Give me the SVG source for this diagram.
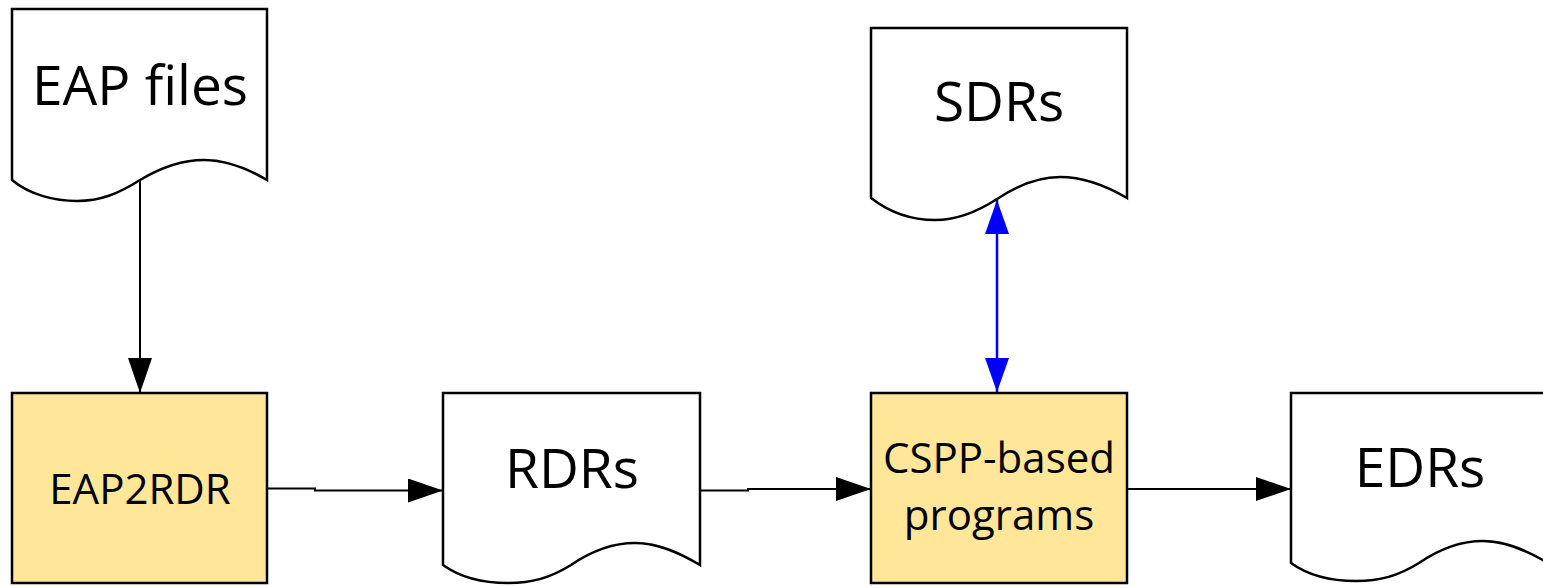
<svg xmlns="http://www.w3.org/2000/svg" width="1543" height="586" viewBox="0 0 1543 586">
  <defs>
    <style>
      .doc { fill: #ffffff; stroke: #000000; stroke-width: 2.5; stroke-linejoin: miter; }
      .proc { fill: #FFE699; stroke: #000000; stroke-width: 2.5; }
      .big { font-family: "Open Sans", "Noto Sans", sans-serif; font-size: 55px; fill: #000000; text-anchor: middle; }
      .mid { font-family: "Open Sans", "Noto Sans", sans-serif; font-size: 42px; fill: #000000; text-anchor: middle; }
      .conn { fill: none; stroke: #000000; stroke-width: 2; }
      .blue { fill: none; stroke: #0000FF; stroke-width: 2.5; }
    </style>
    <marker id="arrow" markerUnits="userSpaceOnUse" markerWidth="36" markerHeight="26" refX="35" refY="12" orient="auto">
      <path d="M0,0 L35,12 L0,24 z" fill="#000000"/>
    </marker>
    <marker id="arrowBlue" markerUnits="userSpaceOnUse" markerWidth="36" markerHeight="26" refX="34" refY="12" orient="auto-start-reverse">
      <path d="M0,0 L34,12 L0,24 z" fill="#0000FF"/>
    </marker>
  </defs>

  <g id="connectors">
    <path class="conn" d="M140,180 V393" marker-end="url(#arrow)"/>
    <path class="conn" d="M267,488.5 H315 V490.5 H443" marker-end="url(#arrow)"/>
    <path class="conn" d="M700,490.5 H748 V489 H871" marker-end="url(#arrow)"/>
    <path class="conn" d="M1127,489 H1291" marker-end="url(#arrow)"/>
    <path class="blue" d="M997,200 V392" marker-start="url(#arrowBlue)" marker-end="url(#arrowBlue)"/>
  </g>

  <g id="eap-files">
    <path class="doc" d="M12,9 H267 V180 C250,170 228,160 204,160 C180,160 160,168 140,180 C118,194 100,201 77,201 C55,201 30,195 12,180 Z"/>
    <text class="big" x="140" y="105">EAP files</text>
  </g>

  <g id="eap2rdr">
    <rect class="proc" x="12" y="393" width="255" height="190"/>
    <text class="mid" x="140" y="504">EAP2RDR</text>
  </g>

  <g id="rdrs">
    <path class="doc" d="M443,393 H700 V565 C683,555 660,543 635,543 C610,543 590,552 571,565 C550,578 532,583 508,583 C485,583 461,578 443,565 Z"/>
    <text class="big" x="572" y="488">RDRs</text>
  </g>

  <g id="sdrs">
    <path class="doc" d="M871,28 H1127 V198 C1110,188 1085,177 1060,177 C1035,177 1015,187 997,199 C977,212 958,220 935,220 C912,220 889,212 871,198 Z"/>
    <text class="big" x="999" y="121">SDRs</text>
  </g>

  <g id="cspp">
    <rect class="proc" x="871" y="393" width="256" height="190"/>
    <text class="mid" x="999" y="473">CSPP-based</text>
    <text class="mid" x="999" y="530">programs</text>
  </g>

  <g id="edrs">
    <path class="doc" d="M1291,393 H1548 V563 C1531,553 1508,541 1483,541 C1458,541 1438,550 1419,563 C1398,576 1380,581 1356,581 C1333,581 1309,576 1291,563 Z"/>
    <text class="big" x="1420" y="487">EDRs</text>
  </g>
</svg>
